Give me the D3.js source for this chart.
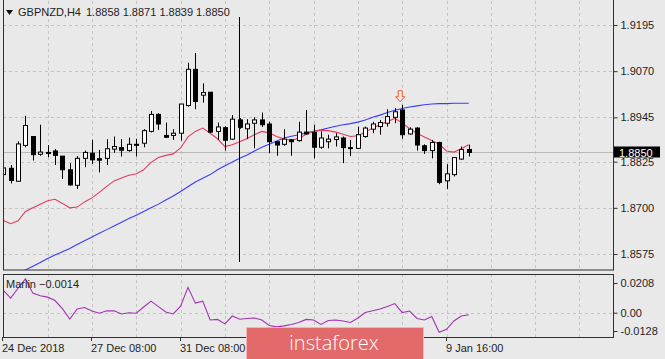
<!DOCTYPE html>
<html><head><meta charset="utf-8">
<script src="https://cdn.jsdelivr.net/npm/d3@7/dist/d3.min.js"></script>
<style>
html,body{margin:0;padding:0;background:#e9e9e9;}
svg{display:block;}
text{font-family:"Liberation Sans",Arial,sans-serif;}
</style></head>
<body>
<svg id="c" width="665" height="359"></svg>
<script>
// ---- data (GBPNZD H4) ----
const symbol = "GBPNZD,H4";
const lastOHLC = [1.8858, 1.8871, 1.8839, 1.8850];
const opens  = [1.8790,1.8807,1.8772,1.8869,1.8893,1.8845,1.8850,1.8854,1.8840,1.8803,1.8761,1.8834,1.8848,1.8833,1.8834,1.8859,1.8863,1.8855,1.8872,1.8875,1.8907,1.8953,1.8896,1.8896,1.8902,1.8977,1.9075,1.9005,1.9013,1.8907,1.8917,1.8886,1.8938,1.8914,1.8929,1.8938,1.8927,1.8879,1.8872,1.8884,1.8882,1.8905,1.8904,1.8864,1.8879,1.8885,1.8889,1.8863,1.8861,1.8893,1.8913,1.8920,1.8929,1.8945,1.8965,1.8900,1.8916,1.8868,1.8855,1.8877,1.8773,1.8790,1.8832,1.8858];
const highs  = [1.8816,1.8816,1.8880,1.8949,1.8893,1.8925,1.8870,1.8859,1.8840,1.8821,1.8840,1.8855,1.8884,1.8857,1.8886,1.8893,1.8886,1.8890,1.8887,1.8913,1.8962,1.8956,1.8931,1.8913,1.8981,1.9093,1.9119,1.9037,1.9013,1.8931,1.8921,1.8951,1.8943,1.8940,1.8945,1.8958,1.8933,1.8879,1.8913,1.8886,1.8933,1.8965,1.8925,1.8907,1.8898,1.8902,1.8893,1.8884,1.8920,1.8920,1.8933,1.8938,1.8967,1.8970,1.8979,1.8918,1.8918,1.8872,1.8884,1.8879,1.8818,1.8836,1.8866,1.8871];
const lows   = [1.8772,1.8766,1.8771,1.8864,1.8828,1.8841,1.8837,1.8816,1.8778,1.8760,1.8751,1.8810,1.8819,1.8796,1.8816,1.8849,1.8839,1.8852,1.8839,1.8864,1.8904,1.8911,1.8889,1.8884,1.8882,1.8974,1.8967,1.8985,1.8902,1.8884,1.8855,1.8884,1.8914,1.8886,1.8861,1.8919,1.8848,1.8841,1.8868,1.8841,1.8879,1.8898,1.8834,1.8860,1.8861,1.8866,1.8821,1.8840,1.8859,1.8890,1.8902,1.8898,1.8920,1.8929,1.8887,1.8898,1.8855,1.8846,1.8834,1.8764,1.8751,1.8785,1.8830,1.8839];
const closes = [1.8808,1.8774,1.8873,1.8923,1.8844,1.8851,1.8849,1.8842,1.8803,1.8762,1.8834,1.8850,1.8830,1.8829,1.8860,1.8866,1.8856,1.8872,1.8870,1.8909,1.8953,1.8927,1.8891,1.8902,1.8981,1.9075,1.8988,1.9012,1.8905,1.8919,1.8883,1.8940,1.8918,1.8927,1.8938,1.8925,1.8879,1.8870,1.8886,1.8879,1.8905,1.8900,1.8864,1.8889,1.8886,1.8892,1.8863,1.8861,1.8898,1.8916,1.8927,1.8931,1.8947,1.8960,1.8898,1.8913,1.8870,1.8855,1.8877,1.8769,1.8792,1.8836,1.8858,1.8850];
const maFast = [1.8666,1.8657,1.8665,1.8690,1.8700,1.8710,1.8719,1.8723,1.8712,1.8700,1.8702,1.8716,1.8727,1.8742,1.8758,1.8773,1.8781,1.8788,1.8792,1.8803,1.8823,1.8836,1.8842,1.8846,1.8862,1.8892,1.8907,1.8916,1.8902,1.8887,1.8866,1.8871,1.8879,1.8888,1.8898,1.8907,1.8903,1.8893,1.8886,1.8883,1.8888,1.8899,1.8907,1.8910,1.8909,1.8905,1.8899,1.8893,1.8895,1.8905,1.8916,1.8925,1.8934,1.8942,1.8930,1.8914,1.8902,1.8892,1.8882,1.8872,1.8854,1.8851,1.8860,1.8871];
const maSlow = [1.8502,1.8512,1.8522,1.8532,1.8542,1.8552,1.8563,1.8572,1.8581,1.8590,1.8601,1.8611,1.8621,1.8631,1.8641,1.8651,1.8661,1.8671,1.8680,1.8690,1.8700,1.8710,1.8721,1.8732,1.8744,1.8757,1.8770,1.8780,1.8790,1.8803,1.8814,1.8824,1.8834,1.8843,1.8854,1.8864,1.8872,1.8881,1.8889,1.8894,1.8898,1.8903,1.8907,1.8911,1.8916,1.8921,1.8925,1.8928,1.8932,1.8938,1.8945,1.8951,1.8958,1.8964,1.8969,1.8973,1.8976,1.8979,1.8981,1.8982,1.8982,1.8983,1.8983,1.8983];
const marlin = [0.0157,0.0102,0.0171,0.0237,0.0137,0.0119,0.0109,0.0085,0.0029,-0.0044,0.0026,0.0036,0.0012,-0.0004,0.0014,0.0013,-0.0009,0.0000,-0.0004,0.0040,0.0081,0.0043,0.0005,-0.0009,0.0046,0.0178,0.0067,0.0081,-0.0051,-0.0047,-0.0078,-0.0023,-0.0046,-0.0040,-0.0037,-0.0051,-0.0089,-0.0099,-0.0092,-0.0082,-0.0068,-0.0047,-0.0051,-0.0082,-0.0054,-0.0051,-0.0058,-0.0068,-0.0037,0.0001,0.0014,0.0026,0.0043,0.0064,0.0001,0.0012,-0.0040,-0.0051,-0.0026,-0.0137,-0.0116,-0.0058,-0.0023,-0.0014];
const priceTicks = [1.9195, 1.9070, 1.8945, 1.8825, 1.8700, 1.8575];
const marlinTicks = [0.0208, 0.00, -0.0128];
const marlinTickLabels = ["0.0208", "0.00", "-0.0128"];
const timeTickIdx = [0, 12, 24, 36, 48, 60];
const timeLabelIdx = [0, 12, 24, 60];
const timeLabels = ["24 Dec 2018", "27 Dec 08:00", "31 Dec 08:00", "9 Jan 16:00"];
const vlineIdx = 32;
const arrowIdx = 54;

// ---- layout ----
const svg = d3.select("#c");
const L = 3, R = 613, mainTop = 1, mainBot = 270, indTop = 274, indBot = 337;
const x = d3.scaleLinear().domain([0, 82]).range([3.3, 3.3 + 82 * 7.387]);
const y = d3.scaleLinear().domain([1.8575, 1.9195]).range([254, 25]);
const yi = d3.scaleLinear().domain([-0.0128, 0.0208]).range([331, 283]);
const bars = opens.map((o, i) => ({i, o, h: highs[i], l: lows[i], c: closes[i]}));
const gridC = "#c4c4c4", frameC = "#303030", txtC = "#1e1e1e";

svg.append("rect").attr("width", 665).attr("height", 359).attr("fill", "#e9e9e9");

const defs = svg.append("defs");
defs.append("clipPath").attr("id", "cm").append("rect").attr("x", L).attr("y", mainTop).attr("width", R - L).attr("height", mainBot - mainTop);
defs.append("clipPath").attr("id", "ci").append("rect").attr("x", L).attr("y", indTop).attr("width", R - L).attr("height", indBot - indTop);

// grid main
const gridIdx = d3.range(6, 83, 6);
const gm = svg.append("g").attr("clip-path", "url(#cm)");
gm.selectAll("line.v").data(gridIdx).join("line")
  .attr("x1", d => Math.round(x(d)) + 0.5).attr("x2", d => Math.round(x(d)) + 0.5)
  .attr("y1", mainTop).attr("y2", mainBot)
  .attr("stroke", gridC).attr("stroke-dasharray", "3,3");
gm.selectAll("line.h").data(priceTicks).join("line")
  .attr("x1", L).attr("x2", R)
  .attr("y1", d => Math.round(y(d)) + 0.5).attr("y2", d => Math.round(y(d)) + 0.5)
  .attr("stroke", gridC).attr("stroke-dasharray", "3,3");
// current price line
gm.append("line").attr("x1", L).attr("x2", R)
  .attr("y1", Math.round(y(lastOHLC[3])) + 0.5).attr("y2", Math.round(y(lastOHLC[3])) + 0.5)
  .attr("stroke", "#b9b9b9");

// moving averages
const lineGen = d3.line().x((d, i) => x(i)).y(d => y(d));
gm.append("path").attr("d", lineGen(maSlow)).attr("fill", "none").attr("stroke", "#3a3aff").attr("stroke-width", 1.1);
gm.append("path").attr("d", lineGen(maFast)).attr("fill", "none").attr("stroke", "#e43b5e").attr("stroke-width", 1.1);

// candles
const cg = gm.append("g");
cg.selectAll("line.w").data(bars).join("line")
  .attr("x1", d => Math.round(x(d.i)) + 0.5).attr("x2", d => Math.round(x(d.i)) + 0.5)
  .attr("y1", d => y(d.h)).attr("y2", d => y(d.l))
  .attr("stroke", "#000").attr("stroke-width", 1);
cg.selectAll("rect.b").data(bars).join("rect")
  .attr("x", d => Math.round(x(d.i)) - 2 + 0.5)
  .attr("y", d => y(Math.max(d.o, d.c)))
  .attr("width", 4)
  .attr("height", d => Math.max(1, Math.abs(y(d.o) - y(d.c))))
  .attr("fill", d => d.c >= d.o ? "#ffffff" : "#000000")
  .attr("stroke", "#000").attr("stroke-width", 1);

// vertical line object
gm.append("line").attr("x1", Math.round(x(vlineIdx)) - 0.5).attr("x2", Math.round(x(vlineIdx)) - 0.5)
  .attr("y1", 17).attr("y2", 262).attr("stroke", "#000").attr("stroke-width", 1);

// arrow marker
{
  const ax = x(arrowIdx) - 2, ay = y(highs[arrowIdx]) - 3;
  const p = `M${ax},${ay} L${ax-4.5},${ay-5} L${ax-2},${ay-5} L${ax-2},${ay-11} L${ax+2},${ay-11} L${ax+2},${ay-5} L${ax+4.5},${ay-5} Z`;
  gm.append("path").attr("d", p).attr("fill", "#fff3ee").attr("stroke", "#ff4a1a").attr("stroke-width", 1);
}

// main frame
svg.append("rect").attr("x", L + 0.5).attr("y", mainTop - 10).attr("width", R - L).attr("height", mainBot - mainTop + 10)
  .attr("fill", "none").attr("stroke", frameC);

// price axis
const ya = svg.append("g").attr("transform", `translate(${R + 0.5},0)`)
  .call(d3.axisRight(y).tickValues(priceTicks).tickFormat(d3.format(".4f")).tickSize(4).tickPadding(3));
ya.select(".domain").remove();
ya.selectAll("line").attr("stroke", frameC);
ya.selectAll("text").attr("fill", txtC).style("font-size", "11px").attr("font-family", null);

// last price box
{
  const yy = Math.round(y(lastOHLC[3]));
  svg.append("rect").attr("x", 614).attr("y", yy - 5.5).attr("width", 46).attr("height", 11).attr("fill", "#000");
  svg.append("text").attr("x", 619).attr("y", yy + 4.5).attr("fill", "#fff").style("font-size", "11px").text(d3.format(".4f")(lastOHLC[3]));
}

// header
svg.append("path").attr("d", "M6,10 L13,10 L9.5,15 Z").attr("fill", "#111");
svg.append("text").attr("x", 18).attr("y", 16).attr("fill", txtC).style("font-size", "11px").text(symbol);
svg.append("text").attr("x", 86).attr("y", 16).attr("fill", txtC).style("font-size", "11px").text(lastOHLC.map(d3.format(".4f")).join(" "));

// ---- indicator panel ----
const gi = svg.append("g").attr("clip-path", "url(#ci)");
gi.selectAll("line.v").data(gridIdx).join("line")
  .attr("x1", d => Math.round(x(d)) + 0.5).attr("x2", d => Math.round(x(d)) + 0.5)
  .attr("y1", indTop).attr("y2", indBot)
  .attr("stroke", gridC).attr("stroke-dasharray", "3,3");
gi.append("line").attr("x1", L).attr("x2", R)
  .attr("y1", Math.round(yi(0)) + 0.5).attr("y2", Math.round(yi(0)) + 0.5)
  .attr("stroke", gridC).attr("stroke-dasharray", "3,3");
gi.append("path").attr("d", d3.line().x((d, i) => x(i)).y(d => yi(d))(marlin))
  .attr("fill", "none").attr("stroke", "#a332b4").attr("stroke-width", 1.1);
svg.append("rect").attr("x", L + 0.5).attr("y", indTop + 0.5).attr("width", R - L).attr("height", indBot - indTop)
  .attr("fill", "none").attr("stroke", frameC);
svg.append("text").attr("x", 6).attr("y", 288).attr("fill", txtC).style("font-size", "11px")
  .text("Marlin " + d3.format(".4f")(marlin[marlin.length - 1]));

const ia = svg.append("g").attr("transform", `translate(${R + 0.5},0)`)
  .call(d3.axisRight(yi).tickValues(marlinTicks).tickFormat((d, k) => marlinTickLabels[k]).tickSize(4).tickPadding(3));
ia.select(".domain").remove();
ia.selectAll("line").attr("stroke", frameC);
ia.selectAll("text").attr("fill", txtC).style("font-size", "11px").attr("font-family", null);

// time axis
const ta = svg.append("g");
ta.selectAll("line").data(timeTickIdx).join("line")
  .attr("x1", d => Math.round(x(d)) - 0.5).attr("x2", d => Math.round(x(d)) - 0.5)
  .attr("y1", indBot).attr("y2", indBot + 4).attr("stroke", frameC);
ta.selectAll("text").data(timeLabelIdx).join("text")
  .attr("x", d => Math.round(x(d)) - 1).attr("y", 352)
  .attr("fill", txtC).style("font-size", "11px")
  .text((d, k) => timeLabels[k]);

// watermark logo
svg.append("rect").attr("x", 246.5).attr("y", 327.5).attr("width", 177).attr("height", 34)
  .attr("fill", "#e36a6a").attr("stroke", "#f3b4b4").attr("stroke-width", 1);
svg.append("text").attr("x", 334).attr("y", 350).attr("text-anchor", "middle").attr("fill", "#ffffff")
  .style("font-size", "20px").style("font-family", "'Open Sans',sans-serif").style("font-weight", "300").text("instaforex");
</script>
</body></html>
